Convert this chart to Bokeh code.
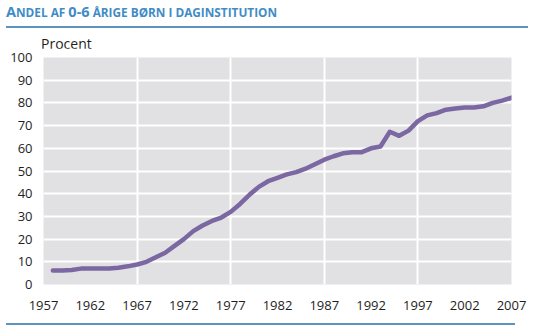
from bokeh.plotting import figure
from bokeh.layouts import column
from bokeh.models import Range1d, FixedTicker, ColumnDataSource, Div
from bokeh.embed import file_html
from bokeh.resources import INLINE

title_parts = ["A", "NDEL AF ", "0-6", " ÅRIGE BØRN I DAGINSTITUTION"]
y_label = "Procent"

years = list(range(1958, 2008))
share = [6.2, 6.2, 6.4, 7.0, 7.0, 7.0, 7.0, 7.4, 8.0, 8.8,
         10.0, 12.0, 14.0, 17.0, 20.0, 23.5, 26.0, 28.0, 29.5, 32.0,
         35.5, 39.5, 43.0, 45.5, 47.0, 48.5, 49.5, 51.0, 53.0, 55.0,
         56.5, 57.8, 58.3, 58.3, 60.0, 60.8, 67.3, 65.5, 67.8, 72.0,
         74.5, 75.5, 77.0, 77.5, 78.0, 78.0, 78.5, 80.0, 81.0, 82.3]

x_ticks = list(range(1957, 2008, 5))
x_grid = [1967, 1977, 1987, 1997]
y_ticks = list(range(0, 101, 10))
y_grid = list(range(10, 100, 10))

FONT = "Open Sans"
TXT = "#1e1e1e"
BLUE = "#3f8cc6"
RULE = "#5f93bf"
PURPLE = "#7b67a1"
W = 536

# ---- header (title, rule, unit label)
HH = 48
big = "font-size:14.5px"
small = "font-size:11.8px"
title_html = "".join(
    f'<span style="{big if i % 2 == 0 else small}">{t}</span>' for i, t in enumerate(title_parts))
head_html = (
    f'<div style="position:relative;width:{W}px;height:{HH}px;font-family:\'{FONT}\';">'
    f'<div style="position:absolute;left:6px;top:3px;line-height:18px;white-space:pre;'
    f'font-weight:bold;color:{BLUE};">{title_html}</div>'
    f'<div style="position:absolute;left:6px;top:26px;width:522px;height:2px;background:{RULE};"></div>'
    f'<div style="position:absolute;left:41px;top:34px;line-height:20px;font-size:14px;'
    f'color:{TXT};white-space:pre;">{y_label}</div>'
    '</div>')
head = Div(text=head_html, width=W, height=HH, margin=(0, 0, 0, 0))

# ---- main chart
MH = 268
p = figure(width=W, height=MH, output_backend="svg", toolbar_location=None,
           x_range=Range1d(1957, 2007), y_range=Range1d(0, 100),
           min_border_left=43, min_border_right=25, min_border_top=9, min_border_bottom=32)
p.outline_line_color = None
p.background_fill_color = "#e1e1e3"
p.border_fill_color = "white"

for ax in (p.xaxis[0], p.yaxis[0]):
    ax.axis_line_color = None
    ax.major_tick_line_color = None
    ax.minor_tick_line_color = None
    ax.major_tick_out = 0
    ax.major_tick_in = 0
    ax.major_label_text_font = FONT
    ax.major_label_text_font_size = "13px"
    ax.major_label_text_color = TXT
p.xaxis.ticker = FixedTicker(ticks=x_ticks)
p.yaxis.ticker = FixedTicker(ticks=y_ticks)
p.xaxis.major_label_standoff = 16
p.yaxis.major_label_standoff = 11

p.xgrid.ticker = FixedTicker(ticks=x_grid)
p.ygrid.ticker = FixedTicker(ticks=y_grid)
for g in (p.xgrid[0], p.ygrid[0]):
    g.grid_line_color = "white"
    g.grid_line_width = 2

src = ColumnDataSource(dict(year=years, share=share))
p.line("year", "share", source=src, line_color=PURPLE, line_width=4.5,
       line_cap="round", line_join="round")

# ---- footer rule
FH = 330 - HH - MH
foot_html = (f'<div style="position:relative;width:{W}px;height:{FH}px;">'
             f'<div style="position:absolute;left:6px;top:7px;width:509px;height:2px;background:{RULE};"></div>'
             '</div>')
foot = Div(text=foot_html, width=W, height=FH, margin=(0, 0, 0, 0))

layout = column(head, p, foot, spacing=0)
open("out.html", "w").write(file_html(layout, INLINE))
